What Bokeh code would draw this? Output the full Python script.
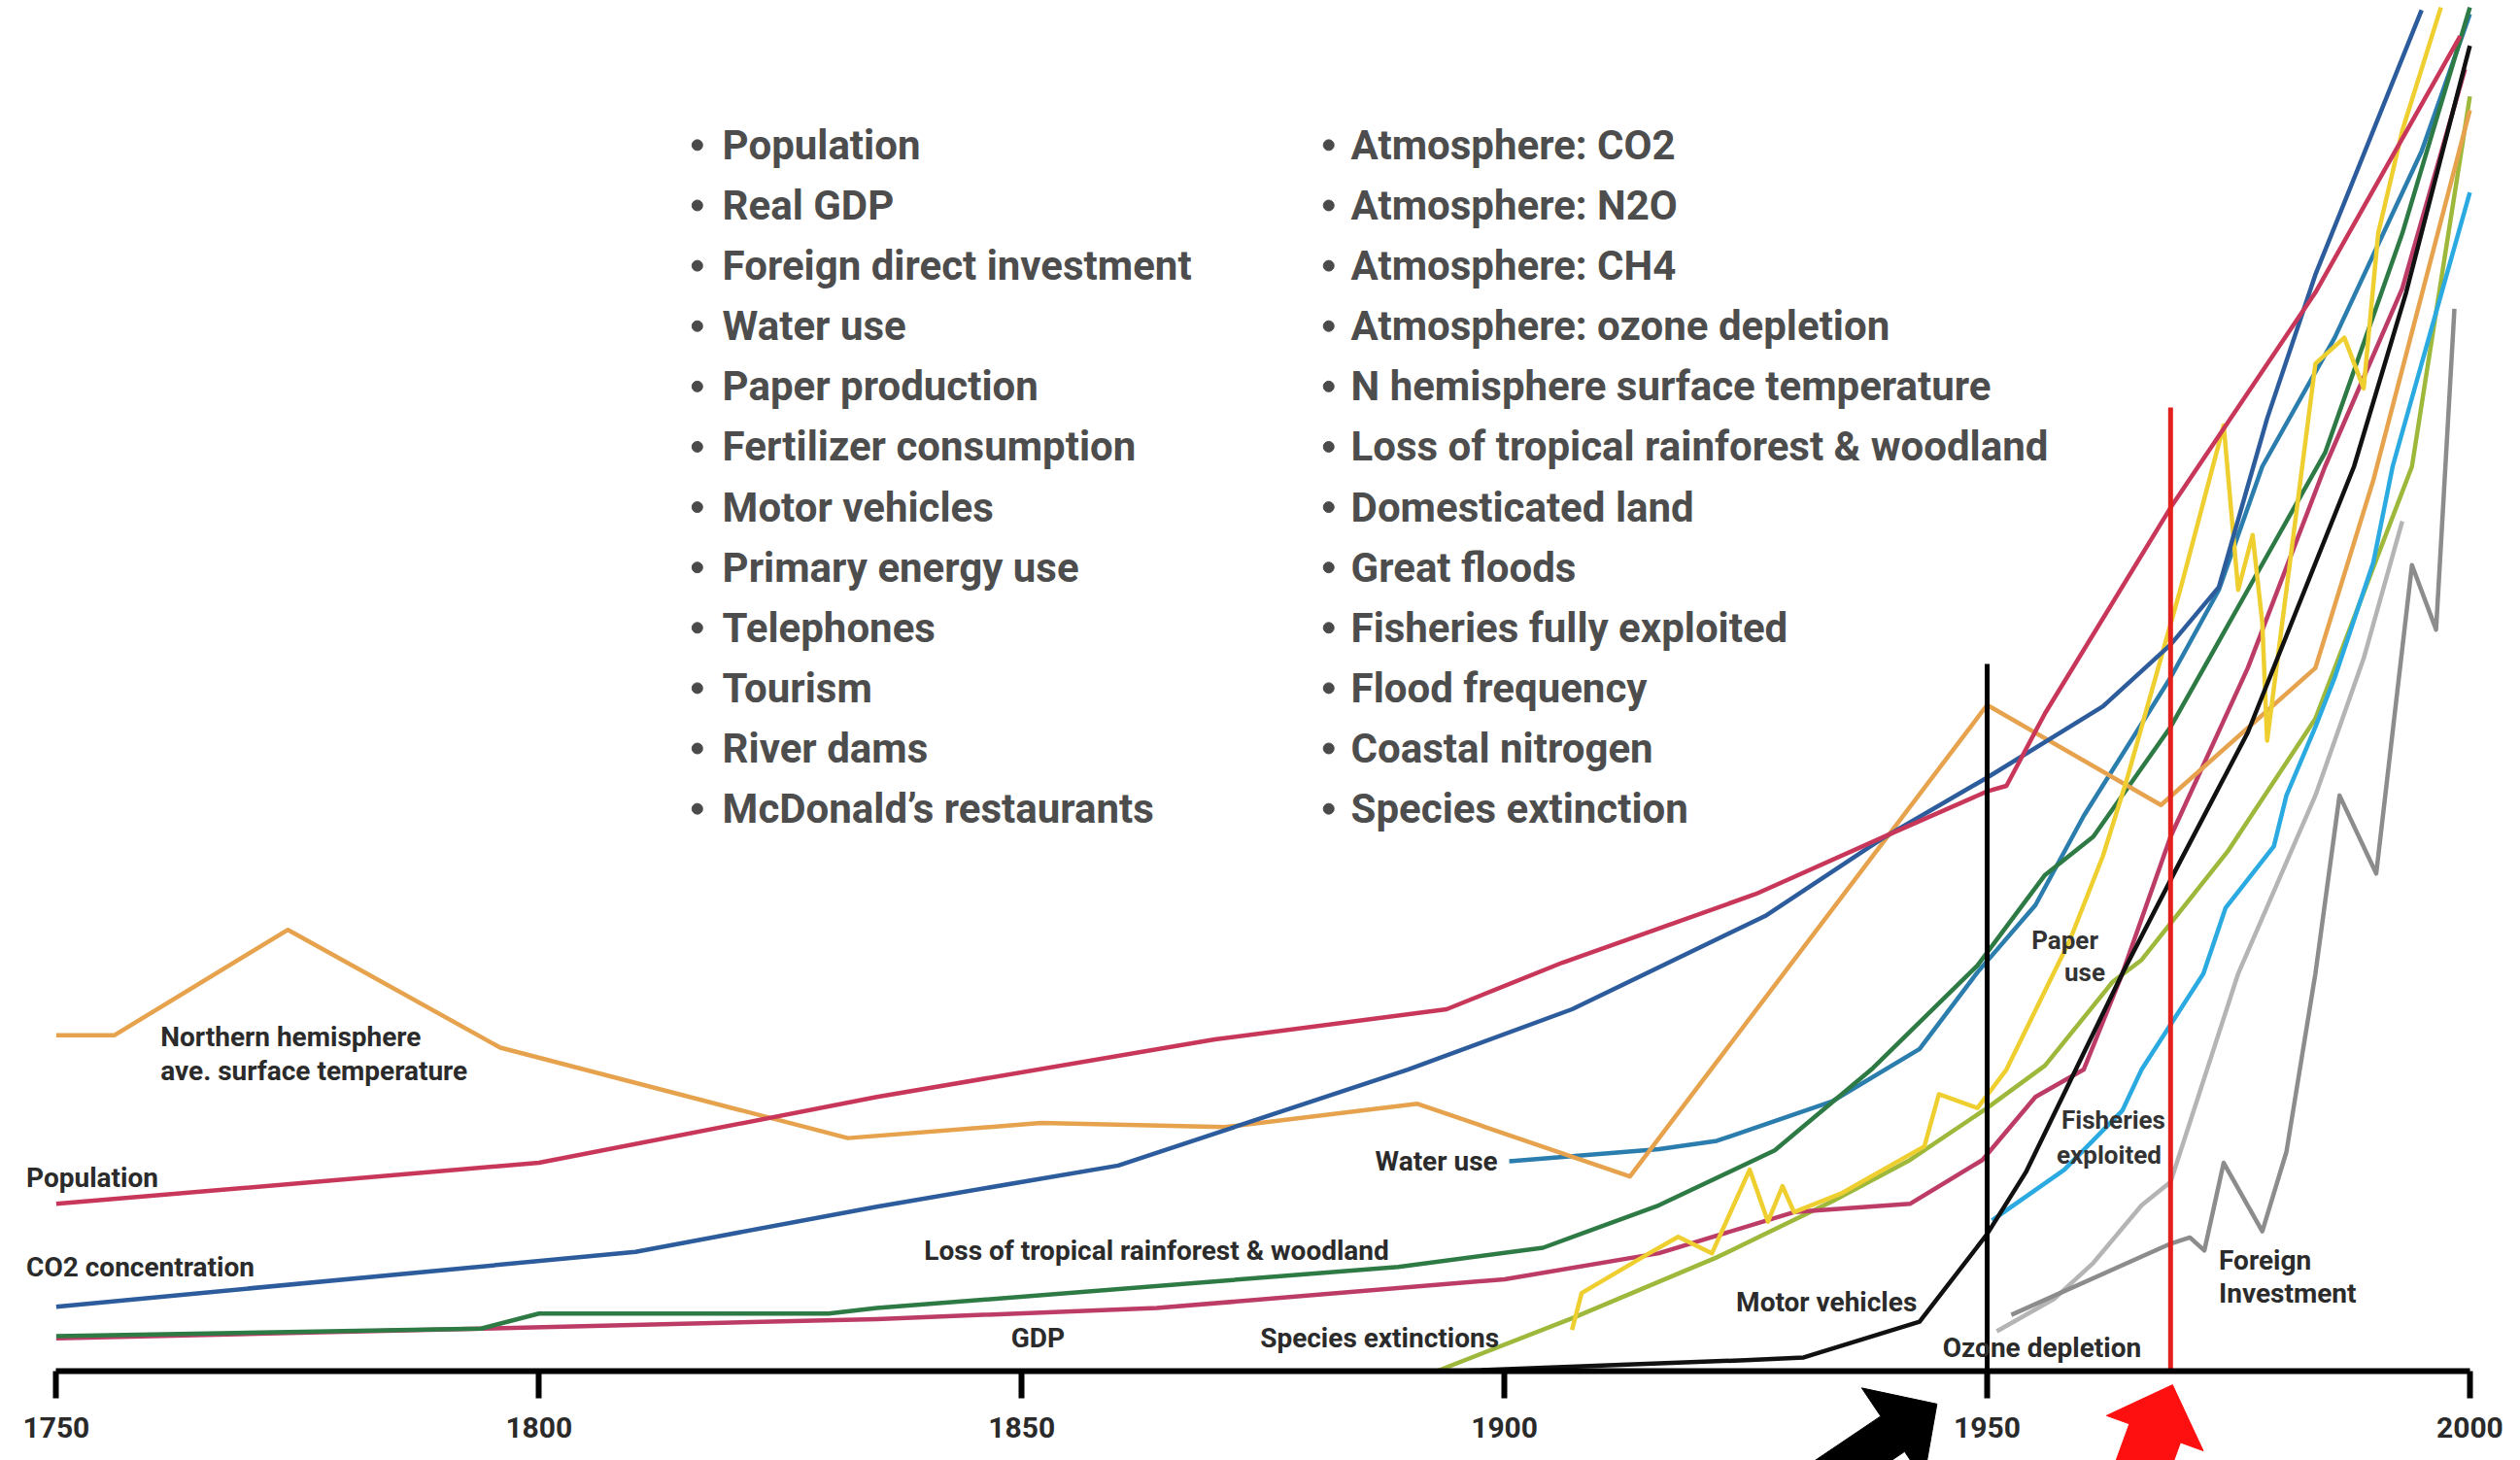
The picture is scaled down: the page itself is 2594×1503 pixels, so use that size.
import math
from bokeh.plotting import figure
from bokeh.models import FixedTicker, Range1d
from bokeh.core.properties import value
from bokeh.embed import file_html
from bokeh.resources import INLINE

# ---------------- data (index units: 0 = baseline, ~100 = top) ----------------
pop_years = [1750, 1800, 1835, 1870, 1894, 1906, 1926, 1940, 1950, 1952, 1956, 1969, 1984, 1999]
pop_vals = [12.2, 15.2, 20.0, 24.2, 26.4, 29.8, 34.8, 39.2, 42.3, 42.7, 48.0, 63.0, 78.7, 97.4]

co2_years = [1750, 1810, 1835, 1860, 1890, 1907, 1927, 1939, 1950, 1962, 1969, 1974, 1979, 1984, 1995]
co2_vals = [4.7, 8.7, 12.0, 15.0, 22.0, 26.4, 33.2, 38.8, 43.3, 48.5, 53.0, 57.2, 69.5, 80.0, 99.3]

temp_years = [1750, 1756, 1774, 1796, 1832, 1852, 1871, 1891, 1913, 1950, 1968, 1984, 1990, 2000]
temp_vals = [24.5, 24.5, 32.2, 23.6, 17.0, 18.1, 17.8, 19.5, 14.2, 48.6, 41.3, 51.3, 65.0, 92.0]

water_years = [1900.5, 1916, 1922, 1934, 1943, 1949, 1955, 1960, 1969, 1974, 1978.5, 1986, 1995, 2000]
water_vals = [15.3, 16.2, 16.8, 19.7, 23.5, 29.1, 34.0, 40.5, 50.6, 57.0, 66.0, 75.4, 89.0, 99.0]

forest_years = [1750, 1794, 1800, 1830, 1835, 1889, 1904, 1916, 1928, 1938, 1949, 1956, 1961, 1969, 1977, 1985, 1993, 2000]
forest_vals = [2.55, 3.1, 4.2, 4.2, 4.6, 7.6, 9.0, 12.1, 16.1, 22.0, 29.6, 36.2, 39.0, 47.0, 57.0, 67.0, 83.0, 99.5]

gdp_years = [1750, 1794, 1835, 1864, 1900, 1916, 1930, 1942, 1949.5, 1955, 1960, 1964, 1969, 1977, 1985, 1993, 1999.5]
gdp_vals = [2.4, 3.1, 3.8, 4.6, 6.7, 8.6, 11.6, 12.2, 15.4, 20.0, 22.0, 29.0, 39.0, 51.3, 66.0, 79.0, 95.0]

species_years = [1893, 1907, 1922, 1934, 1942, 1950, 1956, 1963, 1966, 1975, 1984, 1994, 2000]
species_vals = [0.0, 3.85, 8.3, 12.4, 15.4, 19.2, 22.3, 28.4, 30.0, 38.0, 47.6, 66.0, 93.0]

paper_years = [1907, 1908, 1915, 1918, 1921.5, 1925.4, 1927.3, 1928.8, 1930, 1935, 1943.5, 1945, 1949,
               1952, 1958.6, 1962, 1964.4, 1970, 1974.5, 1976, 1977.5, 1978.5, 1979, 1984, 1987, 1989,
               1990.5, 1993, 1997]
paper_vals = [3.0, 5.7, 8.6, 9.8, 8.6, 14.7, 10.9, 13.5, 11.6, 13.0, 16.4, 20.2, 19.2,
              22.0, 31.5, 37.6, 43.0, 57.0, 69.0, 57.0, 61.0, 54.6, 46.0, 73.5, 75.4, 71.7,
              83.0, 90.5, 99.5]

motor_years = [1895, 1925, 1931, 1943, 1950, 1954, 1964, 1970, 1977, 1988, 1993.4, 2000]
motor_vals = [0.0, 0.8, 1.0, 3.6, 10.0, 14.5, 29.0, 37.2, 46.6, 66.0, 78.7, 96.7]

fish_years = [1950.5, 1958, 1964, 1966, 1972.4, 1974.7, 1979.7, 1981, 1984, 1986, 1990, 1992, 1996, 2000]
fish_vals = [11.0, 14.7, 19.0, 22.0, 29.0, 33.8, 38.3, 42.0, 47.0, 50.6, 59.0, 66.0, 76.0, 86.0]

ozone_years = [1951, 1957, 1961, 1966, 1969, 1976, 1984, 1989, 1993]
ozone_vals = [2.9, 5.3, 7.9, 12.1, 13.8, 29.0, 42.0, 52.0, 62.0]

fdi_years = [1952.5, 1969, 1971, 1972.5, 1974.5, 1978.5, 1981, 1984, 1986.5, 1990.3, 1994, 1996.5, 1998.4]
fdi_vals = [4.1, 9.3, 9.75, 8.8, 15.2, 10.2, 16.0, 29.0, 42.0, 36.3, 58.8, 54.1, 77.5]

# event markers
event_years = [1950, 1969]
event_tops = [51.6, 70.3]
event_colors = ["#000000", "#E3211C"]

tick_years = [1750, 1800, 1850, 1900, 1950, 2000]

left_items = ["Population", "Real GDP", "Foreign direct investment", "Water use", "Paper production",
              "Fertilizer consumption", "Motor vehicles", "Primary energy use", "Telephones",
              "Tourism", "River dams", "McDonald\u2019s restaurants"]
right_items = ["Atmosphere: CO2", "Atmosphere: N2O", "Atmosphere: CH4", "Atmosphere: ozone depletion",
               "N hemisphere surface temperature", "Loss of tropical rainforest & woodland",
               "Domesticated land", "Great floods", "Fisheries fully exploited", "Flood frequency",
               "Coastal nitrogen", "Species extinction"]

# ---------------- figure ----------------
W, H = 2594, 1503
PX_PER_YEAR = 9.938
X0 = 1750 - 57.4 / PX_PER_YEAR
X1 = X0 + W / PX_PER_YEAR
PX_PER_UNIT = 14.11
BASE_PX = 1411
Y1 = BASE_PX / PX_PER_UNIT
Y0 = -(H - BASE_PX) / PX_PER_UNIT
FONT = "Roboto"

p = figure(width=W, height=H, x_range=Range1d(X0, X1), y_range=Range1d(Y0, Y1),
           output_backend="svg", toolbar_location=None, y_axis_location=None,
           min_border_left=0, min_border_right=0, min_border_top=0, min_border_bottom=0)
p.outline_line_color = None
p.grid.visible = False
p.background_fill_color = "white"
p.border_fill_color = "white"

ax = p.xaxis[0]
ax.fixed_location = 0
ax.ticker = FixedTicker(ticks=tick_years)
ax.bounds = (1750, 2000)
ax.axis_line_width = 6
ax.axis_line_color = "black"
ax.major_tick_line_width = 6
ax.major_tick_line_color = "black"
ax.major_tick_out = 28
ax.major_tick_in = 0
ax.minor_tick_line_color = None
ax.major_label_standoff = 19
ax.major_label_text_font = FONT
ax.major_label_text_font_style = "bold"
ax.major_label_text_font_size = "30px"
ax.major_label_text_color = "#2a2a2a"

series = [
    (ozone_years, ozone_vals, "#B4B4B4"),
    (fdi_years, fdi_vals, "#8C8C8C"),
    (species_years, species_vals, "#9DB83A"),
    (gdp_years, gdp_vals, "#BC3C66"),
    (fish_years, fish_vals, "#2AAAE0"),
    (water_years, water_vals, "#2B7DAD"),
    (forest_years, forest_vals, "#2E7A45"),
    (temp_years, temp_vals, "#E6A24C"),
    (paper_years, paper_vals, "#EFCF30"),
    (motor_years, motor_vals, "#111111"),
    (co2_years, co2_vals, "#2C5C9C"),
    (pop_years, pop_vals, "#C8375A"),
]
for xs, ys, col in series:
    p.line(x=xs, y=ys, line_color=col, line_width=4.5, line_join="round")

# event verticals
p.segment(x0=event_years, y0=[0, 0], x1=event_years, y1=event_tops,
          line_color=event_colors, line_width=5)


# block arrows below the axis, pointing at the two event years
def arrow(tip_x, tip_y, ang, L, Wd, S, back=260):
    dx, dy = math.cos(math.radians(ang)), -math.sin(math.radians(ang))
    nx, ny = -dy, dx
    bx, by = -L * dx, -L * dy
    pts = [(0.0, 0.0), (bx + Wd * nx, by + Wd * ny), (bx + S * nx, by + S * ny),
           (bx + S * nx - back * dx, by + S * ny - back * dy),
           (bx - S * nx - back * dx, by - S * ny - back * dy),
           (bx - S * nx, by - S * ny), (bx - Wd * nx, by - Wd * ny)]
    xs = [tip_x + a / PX_PER_YEAR for a, _ in pts]
    ys = [tip_y - b / PX_PER_UNIT for _, b in pts]
    return xs, ys


bxs, bys = arrow(event_years[0] - 5.2, -2.4, 34, 55, 57, 22)
rxs, rys = arrow(event_years[1] + 0.2, -1.0, 70, 53, 53, 28)
p.patches(xs=[bxs, rxs], ys=[bys, rys], fill_color=["#000000", "#FF1010"],
          line_color=["#000000", "#FF1010"])

# chart labels
lab_text = ["Northern hemisphere", "ave. surface temperature", "Population", "CO2 concentration",
            "Loss of tropical rainforest & woodland", "GDP", "Species extinctions",
            "Motor vehicles", "Ozone depletion", "Foreign", "Investment"]
lab_x = [1760.8, 1760.8, 1746.9, 1746.9, 1839.9, 1848.9, 1874.7, 1924.0, 1945.4, 1974.0, 1974.0]
lab_y = [24.4, 21.9, 14.1, 7.6, 8.8, 2.4, 2.4, 5.0, 1.7, 8.1, 5.7]
p.text(x=lab_x, y=lab_y, text=lab_text, text_font=value(FONT),
       text_font_style="bold", text_font_size=value("28px"), text_color="#2b2b2b",
       text_baseline="middle", text_align="left")

p.text(x=[1899.3], y=[15.3], text=["Water use"], text_font=value(FONT),
       text_font_style="bold", text_font_size=value("28px"), text_color="#2b2b2b",
       text_baseline="middle", text_align="right")

small_text = ["Paper", "use", "Fisheries", "exploited"]
small_x = [1954.6, 1958.0, 1957.7, 1957.2]
small_y = [31.4, 29.1, 18.3, 15.8]
p.text(x=small_x, y=small_y, text=small_text, text_font=value(FONT),
       text_font_style="bold", text_font_size=value("26px"), text_color="#333333",
       text_baseline="middle", text_align="left")

# bullet lists
row_y = [(853 - (90 + 37.55 * i)) / 8.53 for i in range(12)]
p.scatter(x=[1816.4] * 12, y=row_y, size=11, color="#4a4a4a")
p.scatter(x=[1881.8] * 12, y=row_y, size=11, color="#4a4a4a")
p.text(x=[1819.0] * 12, y=row_y, text=left_items, text_font=value(FONT),
       text_font_style="bold", text_font_size=value("42px"), text_color="#4d4d4d",
       text_baseline="middle", text_align="left")
p.text(x=[1884.1] * 12, y=row_y, text=right_items, text_font=value(FONT),
       text_font_style="bold", text_font_size=value("42px"), text_color="#4d4d4d",
       text_baseline="middle", text_align="left")

open("out.html", "w").write(file_html(p, INLINE))
